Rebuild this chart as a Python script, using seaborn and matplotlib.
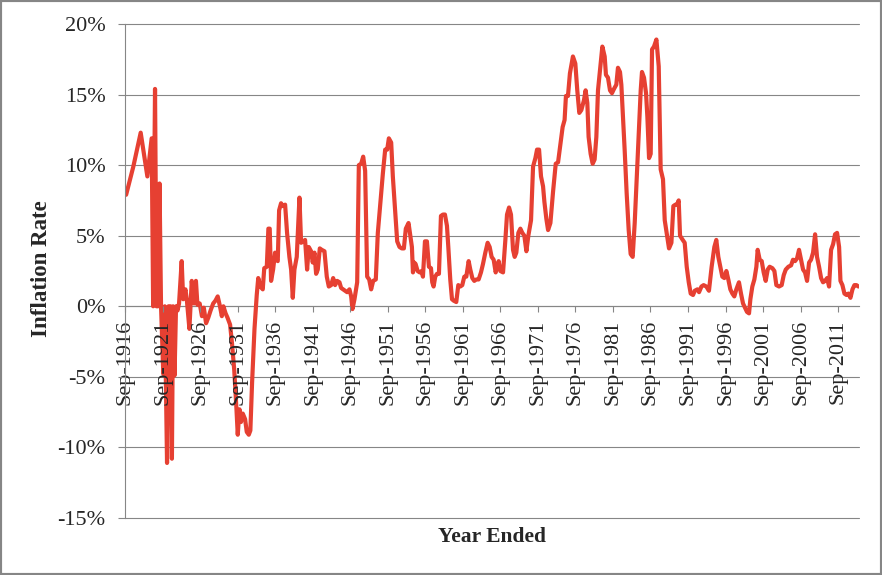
import numpy as np
import pandas as pd
import seaborn as sns
import matplotlib.pyplot as plt
from matplotlib.ticker import FuncFormatter
from matplotlib.patches import Rectangle

# year ended (decimal years) and annual inflation rate (%)
years = [
    1916.90, 1917.86, 1918.84, 1919.73, 1920.30, 1920.50, 1920.75, 1920.95, 1921.15, 1921.35,
    1921.55, 1921.85, 1922.05, 1922.35, 1922.55, 1922.80, 1923.00, 1923.15, 1923.35, 1923.55,
    1923.75, 1923.95, 1924.30, 1924.50, 1924.80, 1924.98, 1925.33, 1925.64, 1925.95, 1926.20,
    1926.40, 1926.70, 1927.00, 1927.25, 1927.55, 1927.85, 1928.15, 1928.50, 1928.80, 1929.10,
    1929.40, 1929.65, 1929.86, 1930.15, 1930.40, 1930.75, 1931.00, 1931.30, 1931.60, 1931.77,
    1932.00, 1932.20, 1932.44, 1932.75, 1932.97, 1933.24, 1933.45, 1933.68, 1934.00, 1934.30,
    1934.50, 1934.80, 1935.10, 1935.30, 1935.64,
    1935.85, 1936.03, 1936.21, 1936.48, 1936.74, 1936.92, 1937.10, 1937.28, 1937.54, 1937.76,
    1938.08, 1938.34, 1938.65, 1938.88, 1939.10, 1939.32, 1939.63, 1939.99, 1940.21, 1940.52,
    1940.74, 1941.01, 1941.23, 1941.54, 1941.76, 1941.99, 1942.21, 1942.43, 1942.70, 1942.96,
    1943.32, 1943.63, 1943.90, 1944.21, 1944.48, 1944.74, 1945.01, 1945.32, 1945.54, 1945.81,
    1946.08, 1946.34, 1946.65, 1946.88, 1947.05, 1947.32, 1947.68, 1947.90, 1948.21, 1948.48,
    1948.74, 1949.01, 1949.28, 1949.54, 1949.81, 1950.16, 1950.43, 1950.79, 1951.10, 1951.41,
    1951.68, 1951.90, 1952.21, 1952.43, 1952.74, 1953.01, 1953.32, 1953.63, 1953.90, 1954.16,
    1954.52,
    1954.97, 1955.11, 1955.28, 1955.46, 1955.73, 1956.00, 1956.26, 1956.44, 1956.71, 1956.97,
    1957.24, 1957.51, 1957.68, 1957.86, 1958.08, 1958.31, 1958.57, 1958.84, 1959.11, 1959.37,
    1959.64, 1959.82, 1960.08, 1960.31, 1960.53, 1960.88, 1961.15, 1961.42, 1961.68, 1961.95,
    1962.22, 1962.53, 1962.75, 1963.02, 1963.28, 1963.55, 1963.86, 1964.17, 1964.44, 1964.75,
    1965.06, 1965.33, 1965.59, 1965.86, 1966.13, 1966.31, 1966.53, 1966.75, 1967.11, 1967.42,
    1967.64, 1967.91, 1968.17, 1968.44, 1968.66, 1968.88, 1969.15, 1969.42, 1969.68, 1969.95,
    1970.22, 1970.48, 1970.84, 1971.11, 1971.42, 1971.64, 1971.91, 1972.17, 1972.44, 1972.62,
    1972.88, 1973.11, 1973.42, 1973.77, 1974.13, 1974.44,
    1974.78, 1975.05, 1975.31, 1975.49, 1975.76, 1976.02, 1976.42, 1976.74, 1977.00, 1977.27,
    1977.54, 1977.89, 1978.11, 1978.34, 1978.51, 1978.78, 1979.05, 1979.31, 1979.54, 1979.76,
    1980.07, 1980.34, 1980.65, 1980.82, 1981.09, 1981.36, 1981.62, 1981.89, 1982.20, 1982.42,
    1982.69, 1982.87, 1983.09, 1983.31, 1983.58, 1983.85, 1984.11, 1984.38, 1984.65, 1984.91,
    1985.18, 1985.45, 1985.62, 1985.89, 1986.16, 1986.34, 1986.56, 1986.78, 1986.96, 1987.22,
    1987.54, 1987.85, 1988.11, 1988.42, 1988.65, 1988.96, 1989.22, 1989.54, 1989.80, 1990.07,
    1990.29, 1990.51, 1990.69, 1991.05, 1991.31, 1991.58, 1991.85, 1992.11, 1992.42, 1992.65,
    1993.00, 1993.22, 1993.54,
    1993.83, 1994.19, 1994.54, 1994.90, 1995.26, 1995.52, 1995.79, 1996.06, 1996.32, 1996.59,
    1996.86, 1997.12, 1997.39, 1997.66, 1997.92, 1998.19, 1998.54, 1998.81, 1999.08, 1999.34,
    1999.61, 1999.88, 2000.06, 2000.32, 2000.59, 2000.86, 2001.03, 2001.30, 2001.57, 2001.83,
    2002.10, 2002.37, 2002.63, 2002.99, 2003.26, 2003.52, 2003.88, 2004.23, 2004.50, 2004.77,
    2005.12, 2005.48, 2005.74, 2006.01, 2006.28, 2006.54, 2006.81, 2007.08, 2007.34, 2007.61,
    2007.88, 2008.14, 2008.41, 2008.68, 2008.94, 2009.21, 2009.48, 2009.74, 2010.01, 2010.28,
    2010.54, 2010.81, 2011.08, 2011.34, 2011.61, 2011.88, 2012.06, 2012.32, 2012.59, 2012.86,
    2013.12, 2013.39, 2013.66, 2013.92, 2014.19, 2014.45,
]
rates = [
    7.9, 9.9, 12.3, 9.2, 11.9, 0.0, 15.4, 0.0, 0.0, 8.7,
    0.0, -4.8, 0.0, -11.1, 0.0, 0.0, -10.8, 0.0, -4.9, 0.0,
    -0.3, 0.2, 3.2, 0.5, 1.2, 0.5, -1.6, 1.8, 0.2, 1.8,
    0.1, 0.2, -0.7, -0.1, -1.2, -0.8, -0.3, 0.2, 0.4, 0.7,
    0.0, -0.7, 0.0, -0.5, -0.8, -1.3, -2.6, -4.5, -7.3, -9.1,
    -7.3, -8.2, -7.6, -8.0, -8.9, -9.1, -8.8, -5.4, -1.6, 0.8,
    2.0, 1.4, 1.2, 2.7, 2.8,
    5.5, 5.5, 1.8, 2.6, 3.8, 3.3, 3.2, 6.8, 7.3, 7.1,
    7.2, 5.2, 3.5, 2.6, 0.6, 2.6, 3.5, 7.7, 4.5, 4.6,
    4.7, 2.6, 4.2, 3.9, 3.1, 3.8, 2.3, 2.6, 4.1, 4.0,
    3.9, 2.1, 1.4, 1.5, 2.0, 1.5, 1.8, 1.7, 1.3, 1.2,
    1.1, 1.0, 1.2, 0.7, -0.2, 0.5, 1.7, 10.0, 10.1, 10.6,
    9.6, 2.1, 1.9, 1.2, 1.8, 1.9, 5.2, 7.5, 9.4, 11.1,
    11.1, 11.9, 11.6, 9.2, 6.8, 4.6, 4.2, 4.1, 4.1, 5.5,
    5.9,
    4.2, 2.4, 3.1, 3.0, 2.5, 2.4, 2.5, 2.1, 4.6, 4.6,
    2.8, 2.7, 1.7, 1.4, 2.1, 2.3, 2.3, 6.4, 6.5, 6.5,
    5.7, 4.2, 1.9, 0.5, 0.4, 0.3, 1.5, 1.4, 1.5, 2.1,
    2.1, 3.2, 2.6, 2.0, 1.8, 1.9, 1.9, 2.4, 3.0, 3.8,
    4.5, 4.2, 3.5, 3.3, 2.4, 2.8, 3.2, 2.5, 2.4, 4.7,
    6.5, 7.0, 6.5, 4.0, 3.5, 3.8, 5.2, 5.5, 5.2, 5.0,
    3.9, 5.0, 6.1, 9.9, 10.5, 11.1, 11.1, 9.2, 8.5, 7.4,
    6.2, 5.4, 5.9, 8.1, 10.1, 10.2,
    11.6, 12.7, 13.2, 14.9, 14.9, 16.5, 17.7, 17.2, 15.3, 13.7,
    13.9, 14.6, 15.3, 14.4, 12.0, 10.8, 10.1, 10.4, 12.0, 15.3,
    17.0, 18.4, 17.7, 16.4, 16.2, 15.3, 15.1, 15.4, 15.7, 16.9,
    16.6, 15.7, 13.4, 11.1, 8.0, 5.4, 3.7, 3.5, 5.9, 9.0,
    12.3, 15.3, 16.6, 16.2, 15.1, 13.4, 10.5, 10.8, 18.2, 18.4,
    18.9, 17.0, 9.7, 9.0, 6.1, 5.0, 4.1, 4.5, 7.1, 7.2,
    7.2, 7.5, 5.0, 4.7, 4.5, 2.8, 1.7, 0.9, 0.8, 1.1,
    1.2, 1.0, 1.4,
    1.5, 1.4, 1.1, 2.8, 4.2, 4.7, 3.5, 2.8, 2.1, 2.0,
    2.5, 1.9, 1.2, 0.9, 0.7, 1.2, 1.7, 0.9, 0.2, -0.1,
    -0.4, -0.5, 0.5, 1.4, 1.9, 2.8, 4.0, 3.3, 3.2, 2.4,
    1.8, 2.6, 2.8, 2.7, 2.5, 1.5, 1.4, 1.5, 2.2, 2.6,
    2.8, 2.9, 3.3, 3.2, 3.4, 4.0, 3.3, 2.6, 2.4, 1.8,
    3.1, 3.3, 3.8, 5.1, 3.5, 2.8, 2.0, 1.7, 1.8, 2.0,
    1.4, 4.0, 4.4, 5.1, 5.2, 4.2, 1.8, 1.5, 0.9, 0.8,
    0.9, 0.6, 1.2, 1.5, 1.5, 1.4,
]

tick_years = [1916.75 + 5 * i for i in range(20)]
tick_labels = ["Sep-%d" % (1916 + 5 * i) for i in range(20)]
y_ticks = [-15, -10, -5, 0, 5, 10, 15, 20]

df = pd.DataFrame({"year": years, "rate": rates})

sns.set_style("white")
plt.rcParams['font.family'] = ['Liberation Serif', 'DejaVu Serif']

fig = plt.figure(figsize=(8.82, 5.75), dpi=100)
ax = fig.add_axes([125 / 882, 1 - 518 / 575, 734 / 882, 494 / 575])

grey = "#868686"
# horizontal gridlines under the series, tick labels over it
for v in y_ticks:
    ax.axhline(v, color=grey, linewidth=0.8, clip_on=False, zorder=0.1)

sns.lineplot(data=df, x="year", y="rate", color="#E64032", linewidth=3,
             solid_joinstyle="round", ax=ax, zorder=0.3)
ax.set_axisbelow(True)

ax.set_ylim(-15, 20)
ax.set_yticks(y_ticks)
ax.yaxis.set_major_formatter(FuncFormatter(lambda v, p: "%d%%" % v))

ax.set_xlim(1916.75, 2014.53)
ax.set_xticks(tick_years)
ax.set_xticklabels(tick_labels)

for s in ["top", "right"]:
    ax.spines[s].set_visible(False)
ax.spines["left"].set_color(grey)
ax.spines["left"].set_linewidth(0.8)
ax.spines["bottom"].set_position(("data", 0))
ax.spines["bottom"].set_color(grey)
ax.spines["bottom"].set_linewidth(0.8)
ax.spines["bottom"].set_zorder(0.2)

ax.tick_params(axis="y", direction="out", length=5.4, width=0.8, color=grey,
               pad=8.6, labelsize=16, left=True)
ax.tick_params(axis="x", direction="out", length=4.5, width=0.8, color=grey,
               pad=5, labelsize=16, bottom=True, labelrotation=90)

ax.set_ylabel("Inflation Rate", fontsize=16.5, fontweight="bold")
ax.yaxis.set_label_coords(-0.100, 0.504)
ax.set_xlabel("Year Ended", fontsize=15.5, fontweight="bold")
ax.xaxis.set_label_coords(0.5, -0.018)

fig.patches.append(Rectangle((0, 0), 1, 1, transform=fig.transFigure, fill=False,
                             edgecolor=grey, linewidth=3))

fig.savefig("out.png", dpi=100)
